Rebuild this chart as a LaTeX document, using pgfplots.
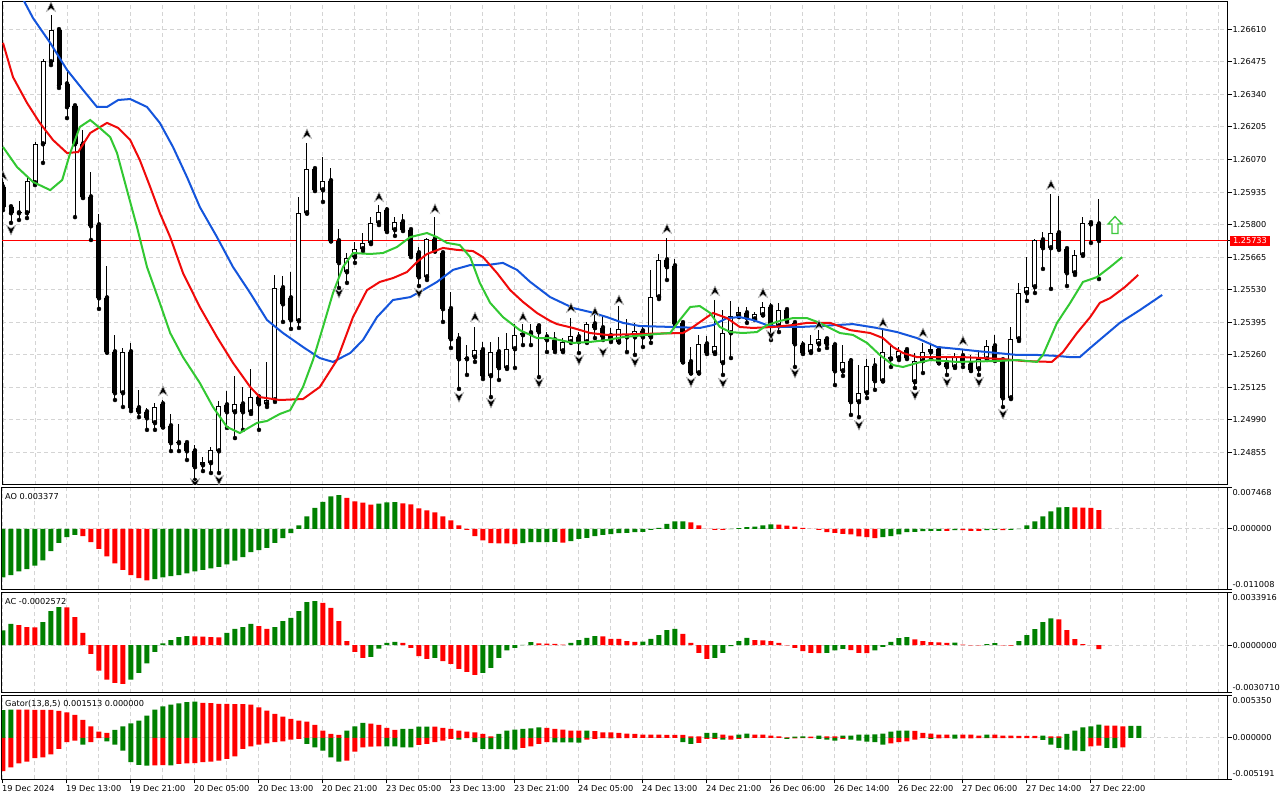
\documentclass[border=0pt]{standalone}
\usepackage{fontspec}
\setmainfont{DejaVu Sans}
\usepackage{pgfplots}
\pgfplotsset{compat=1.18}
\usepackage{pgfplotstable}
\definecolor{gridc}{RGB}{212,212,212}
\definecolor{jaw}{RGB}{20,85,220}
\definecolor{teeth}{RGB}{240,10,10}
\definecolor{lips}{RGB}{50,200,50}
\definecolor{hg}{RGB}{0,128,0}
\definecolor{hr}{RGB}{255,0,0}
\definecolor{sig}{RGB}{60,200,60}

\pgfdeclareplotmark{fup}{%
  \pgfpathmoveto{\pgfqpoint{0pt}{5pt}}%
  \pgfpathlineto{\pgfqpoint{4.5pt}{-4.5pt}}%
  \pgfpathlineto{\pgfqpoint{0pt}{-1.5pt}}%
  \pgfpathlineto{\pgfqpoint{-4.5pt}{-4.5pt}}%
  \pgfpathclose
  \pgfusepathqfillstroke}
\pgfdeclareplotmark{fdn}{%
  \pgfpathmoveto{\pgfqpoint{0pt}{-5pt}}%
  \pgfpathlineto{\pgfqpoint{4.5pt}{4.5pt}}%
  \pgfpathlineto{\pgfqpoint{0pt}{1.5pt}}%
  \pgfpathlineto{\pgfqpoint{-4.5pt}{4.5pt}}%
  \pgfpathclose
  \pgfusepathqfillstroke}
\pgfdeclareplotmark{sigup}{%
  \pgfpathmoveto{\pgfqpoint{0pt}{8.5pt}}%
  \pgfpathlineto{\pgfqpoint{7pt}{1pt}}%
  \pgfpathlineto{\pgfqpoint{3pt}{1pt}}%
  \pgfpathlineto{\pgfqpoint{3pt}{-8.5pt}}%
  \pgfpathlineto{\pgfqpoint{-3pt}{-8.5pt}}%
  \pgfpathlineto{\pgfqpoint{-3pt}{1pt}}%
  \pgfpathlineto{\pgfqpoint{-7pt}{1pt}}%
  \pgfpathclose
  \pgfusepathqstroke}

\pgfplotsset{
  mt/.style={scale only axis, width=1225.7pt, xmin=-0.125, xmax=153.09,
    scaled ticks=false,
    axis line style={line width=1pt},
    xtick={0,8,...,136}, minor xtick={4,12,...,148,144,152},
    xmajorgrids, xminorgrids, ymajorgrids,
    grid style={gridc, dash pattern=on 4pt off 3pt, line width=1pt},
    ytick pos=right, yticklabel pos=right, tick align=outside,
    major tick length=4pt, minor tick length=0pt,
    every tick/.style={black, line width=1pt},
    ticklabel style={font=\fontsize{8.2}{9.8}\selectfont},
    yticklabel style={anchor=base west, inner sep=0pt, xshift=0.6pt, yshift=-3pt},
    clip marker paths=true,
  },
  ind/.style={mt, xticklabels={}, xtick style={draw=none}},
  /pgf/number format/assume math mode=true,
}

\pgfplotstableread{
k O H L C
0 1.25956 1.25977 1.25860 1.25873
1 1.25873 1.25881 1.25807 1.25848
2 1.25848 1.25898 1.25819 1.25852
3 1.25848 1.25993 1.25827 1.25981
4 1.25973 1.26143 1.25964 1.26134
5 1.26134 1.26487 1.26056 1.26479
6 1.26475 1.26670 1.26462 1.26608
7 1.26608 1.26612 1.26367 1.26379
8 1.26383 1.26442 1.26242 1.26288
9 1.26292 1.26296 1.25831 1.26134
10 1.26134 1.26193 1.25910 1.25914
11 1.25914 1.26018 1.25736 1.25794
12 1.25798 1.25844 1.25450 1.25495
13 1.25495 1.25628 1.25268 1.25271
14 1.25271 1.25342 1.25072 1.25101
15 1.25101 1.25288 1.25043 1.25271
16 1.25271 1.25309 1.25026 1.25039
17 1.25039 1.25114 1.25001 1.25022
18 1.25022 1.25039 1.24948 1.24997
19 1.24977 1.25060 1.24948 1.25043
20 1.25055 1.25072 1.24958 1.24960
21 1.24964 1.25014 1.24860 1.24894
22 1.24894 1.24972 1.24860 1.24896
23 1.24894 1.24902 1.24823 1.24860
24 1.24860 1.24885 1.24740 1.24794
25 1.24802 1.24835 1.24777 1.24815
26 1.24811 1.24877 1.24769 1.24865
27 1.24860 1.25068 1.24769 1.25047
28 1.25051 1.25109 1.24956 1.25022
29 1.25022 1.25172 1.24914 1.25055
30 1.25055 1.25126 1.24948 1.25022
31 1.25022 1.25201 1.25014 1.25084
32 1.25084 1.25088 1.24948 1.25055
33 1.25055 1.25230 1.25043 1.25072
34 1.25072 1.25591 1.25064 1.25537
35 1.25537 1.25587 1.25396 1.25470
36 1.25495 1.25603 1.25367 1.25404
37 1.25400 1.25914 1.25371 1.25848
38 1.25848 1.26139 1.25845 1.26031
39 1.26031 1.26039 1.25939 1.25943
40 1.25943 1.26080 1.25894 1.25981
41 1.25981 1.26035 1.25730 1.25732
42 1.25732 1.25782 1.25537 1.25641
43 1.25603 1.25682 1.25558 1.25661
44 1.25665 1.25728 1.25641 1.25699
45 1.25699 1.25765 1.25690 1.25724
46 1.25724 1.25831 1.25719 1.25807
47 1.25807 1.25881 1.25798 1.25852
48 1.25860 1.25873 1.25769 1.25773
49 1.25778 1.25831 1.25753 1.25811
50 1.25811 1.25844 1.25773 1.25778
51 1.25778 1.25780 1.25665 1.25670
52 1.25682 1.25707 1.25545 1.25582
53 1.25582 1.25744 1.25570 1.25740
54 1.25740 1.25831 1.25688 1.25690
55 1.25682 1.25685 1.25396 1.25450
56 1.25450 1.25520 1.25288 1.25325
57 1.25325 1.25350 1.25118 1.25242
58 1.25242 1.25300 1.25176 1.25246
59 1.25250 1.25375 1.25230 1.25280
60 1.25280 1.25313 1.25159 1.25172
61 1.25172 1.25313 1.25084 1.25271
62 1.25271 1.25333 1.25155 1.25205
63 1.25205 1.25350 1.25201 1.25284
64 1.25284 1.25387 1.25205 1.25342
65 1.25342 1.25387 1.25300 1.25350
66 1.25350 1.25387 1.25300 1.25348
67 1.25379 1.25383 1.25167 1.25354
68 1.25333 1.25354 1.25271 1.25321
69 1.25321 1.25354 1.25271 1.25280
70 1.25275 1.25329 1.25271 1.25313
71 1.25313 1.25412 1.25309 1.25338
72 1.25333 1.25354 1.25267 1.25313
73 1.25313 1.25396 1.25309 1.25387
74 1.25387 1.25425 1.25329 1.25371
75 1.25371 1.25425 1.25321 1.25333
76 1.25338 1.25371 1.25313 1.25321
77 1.25313 1.25462 1.25311 1.25367
78 1.25333 1.25408 1.25271 1.25335
79 1.25333 1.25392 1.25259 1.25358
80 1.25358 1.25379 1.25292 1.25333
81 1.25333 1.25612 1.25309 1.25499
82 1.25499 1.25678 1.25491 1.25653
83 1.25653 1.25744 1.25570 1.25624
84 1.25628 1.25657 1.25385 1.25387
85 1.25392 1.25394 1.25228 1.25230
86 1.25230 1.25292 1.25182 1.25184
87 1.25184 1.25342 1.25182 1.25304
88 1.25304 1.25338 1.25263 1.25267
89 1.25267 1.25487 1.25263 1.25296
90 1.25226 1.25446 1.25176 1.25350
91 1.25350 1.25483 1.25246 1.25421
92 1.25421 1.25458 1.25416 1.25437
93 1.25433 1.25458 1.25392 1.25412
94 1.25408 1.25437 1.25404 1.25429
95 1.25425 1.25479 1.25423 1.25458
96 1.25458 1.25475 1.25321 1.25387
97 1.25379 1.25475 1.25354 1.25446
98 1.25446 1.25450 1.25396 1.25404
99 1.25392 1.25394 1.25209 1.25304
100 1.25300 1.25317 1.25263 1.25267
101 1.25271 1.25342 1.25267 1.25304
102 1.25304 1.25363 1.25280 1.25325
103 1.25325 1.25327 1.25288 1.25304
104 1.25300 1.25302 1.25134 1.25192
105 1.25192 1.25300 1.25172 1.25230
106 1.25234 1.25246 1.25010 1.25064
107 1.25064 1.25217 1.25001 1.25101
108 1.25101 1.25242 1.25080 1.25213
109 1.25213 1.25246 1.25114 1.25151
110 1.25151 1.25367 1.25149 1.25271
111 1.25242 1.25300 1.25209 1.25250
112 1.25246 1.25292 1.25238 1.25275
113 1.25280 1.25284 1.25242 1.25246
114 1.25147 1.25267 1.25122 1.25234
115 1.25234 1.25309 1.25184 1.25271
116 1.25271 1.25300 1.25242 1.25284
117 1.25284 1.25286 1.25224 1.25226
118 1.25226 1.25246 1.25176 1.25209
119 1.25209 1.25267 1.25205 1.25255
120 1.25255 1.25280 1.25209 1.25226
121 1.25221 1.25259 1.25192 1.25197
122 1.25201 1.25280 1.25176 1.25242
123 1.25242 1.25321 1.25238 1.25296
124 1.25296 1.25342 1.25234 1.25238
125 1.25238 1.25240 1.25043 1.25080
126 1.25080 1.25375 1.25076 1.25325
127 1.25325 1.25558 1.25317 1.25516
128 1.25516 1.25665 1.25483 1.25541
129 1.25541 1.25740 1.25516 1.25736
130 1.25736 1.25769 1.25616 1.25703
131 1.25703 1.25927 1.25533 1.25765
132 1.25765 1.25919 1.25695 1.25699
133 1.25699 1.25701 1.25545 1.25599
134 1.25599 1.25695 1.25591 1.25674
135 1.25674 1.25831 1.25670 1.25807
136 1.25807 1.25815 1.25724 1.25802
137 1.25802 1.25906 1.25574 1.25733
}\candles

\begin{document}
\begin{tikzpicture}[x=1pt,y=1pt]
\fill[white] (0,0) rectangle (1280,800);
\path[use as bounding box] (0,0) rectangle (1280,800);

% ---------------- main price panel ----------------
\begin{axis}[mt, at={(2pt,315pt)}, anchor=south west, height=483pt,
  ymin=1.247193, ymax=1.267237, xticklabels={}, xtick style={draw=none},
  ytick={1.24855,1.24990,1.25125,1.25260,1.25395,1.25530,1.25665,1.25800,1.25935,1.26070,1.26205,1.26340,1.26475,1.26610},
  yticklabels={1.24855,1.24990,1.25125,1.25260,1.25395,1.25530,1.25665,1.25800,1.25935,1.26070,1.26205,1.26340,1.26475,1.26610},
  extra y ticks={1.25733}, extra y tick labels={1.25733},
  extra y tick style={grid=none, yticklabel style={fill=hr, text=white, inner xsep=3.5pt, inner ysep=2pt, xshift=-3pt}},
]
\addplot[hr, line width=1pt, forget plot] coordinates {(-1,1.25733) (160,1.25733)};
% wicks
\addplot[only marks, mark=none, forget plot, error bars/.cd, y dir=plus, y explicit, error mark=none,
  error bar style={draw=black, line width=1pt, solid}]
  table[x=k, y=L, y error expr=\thisrow{H}-\thisrow{L}] {\candles};
% bodies
\addplot[only marks, mark=none, forget plot, error bars/.cd, y dir=plus, y explicit, error mark=none,
  error bar style={draw=black, line width=5pt, solid}]
  table[x=k, y expr={min(\thisrow{O},\thisrow{C})-0.00001}, y error expr={abs(\thisrow{C}-\thisrow{O})+0.00002}] {\candles};
\addplot[only marks, mark=none, forget plot, error bars/.cd, y dir=plus, y explicit, error mark=none,
  error bar style={draw=white, line width=3pt, solid}]
  table[x=k, y expr={\thisrow{O}+0.00003}, y error expr={max(\thisrow{C}-\thisrow{O}-0.00006,0)}] {\candles};
% alligator
\addplot[jaw, line width=2pt] coordinates {(1.9,1.26780) (2.75,1.26720) (3.75,1.26657) (5.9,1.26554) (8,1.26442) (10,1.26359) (11.75,1.26288) (13,1.26288) (14.4,1.26317) (15.9,1.26321) (18,1.26288) (19.6,1.26222) (21.25,1.26122) (23,1.25997) (24.6,1.25873) (26.75,1.25748) (28.75,1.25624) (30.9,1.25516) (33,1.25404) (35,1.25350) (37.5,1.25292) (39.6,1.25246) (41.25,1.25230) (43.4,1.25267) (45,1.25321) (46.75,1.25416) (48.75,1.25487) (50.9,1.25499) (52.5,1.25528) (54.25,1.25562) (56.25,1.25612) (58.4,1.25632) (60.5,1.25632) (62.5,1.25641) (64.25,1.25612) (65.9,1.25562) (68.4,1.25499) (71.25,1.25454) (73.4,1.25437) (75.5,1.25416) (77.5,1.25392) (79.6,1.25379) (83.75,1.25375) (87.1,1.25371) (88.75,1.25383) (90.5,1.25412) (92.1,1.25416) (93.75,1.25404) (95.5,1.25383) (97.1,1.25375) (99.6,1.25375) (102.1,1.25379) (106.25,1.25387) (109.25,1.25371) (111.75,1.25354) (114.25,1.25329) (116.75,1.25292) (119.25,1.25284) (121.75,1.25275) (124.25,1.25267) (126.75,1.25259) (129.25,1.25259) (131.75,1.25255) (133.4,1.25250) (134.6,1.25250) (135.9,1.25288) (137.5,1.25333) (139.6,1.25392) (142.1,1.25445) (144.9,1.25508)};
\addplot[teeth, line width=2pt] coordinates {(0,1.26554) (1.25,1.26412) (3,1.26305) (4.6,1.26222) (6.25,1.26151) (8,1.26097) (9.4,1.26101) (10.9,1.26180) (13,1.26222) (14.4,1.26201) (15.9,1.26151) (17.1,1.26068) (18.4,1.25956) (19.6,1.25848) (20.9,1.25748) (22.5,1.25599) (24.6,1.25458) (26.75,1.25333) (28.75,1.25226) (30.9,1.25126) (32.1,1.25084) (34.6,1.25072) (37.5,1.25076) (39.6,1.25126) (41.75,1.25238) (43.75,1.25416) (45.5,1.25528) (47.1,1.25562) (48.75,1.25578) (50.5,1.25603) (51.75,1.25645) (53,1.25678) (55,1.25703) (56.75,1.25695) (58.75,1.25690) (60,1.25665) (61.75,1.25599) (63.4,1.25528) (65,1.25479) (66.75,1.25433) (68.4,1.25400) (69.25,1.25387) (71.25,1.25371) (73.4,1.25350) (75.5,1.25342) (79.6,1.25346) (85,1.25350) (86.25,1.25375) (88,1.25416) (88.75,1.25433) (90.5,1.25412) (92.1,1.25375) (93.75,1.25371) (96.25,1.25375) (98.75,1.25383) (100.5,1.25392) (103.4,1.25392) (105.9,1.25362) (108.4,1.25350) (110,1.25329) (111.25,1.25292) (112.5,1.25267) (114.25,1.25250) (120,1.25250) (122.5,1.25246) (125,1.25242) (127.5,1.25234) (131.1,1.25230) (132.5,1.25271) (134.25,1.25350) (135.9,1.25416) (137.1,1.25475) (138.4,1.25495) (140.25,1.25541) (141.9,1.25591)};
\addplot[lips, line width=2pt] coordinates {(0,1.26122) (1.75,1.26039) (3.75,1.25977) (5.9,1.25943) (7.4,1.25985) (8.4,1.26097) (9.6,1.26205) (10.9,1.26234) (12.1,1.26201) (13.4,1.26163) (14.25,1.26097) (15.5,1.25943) (16.75,1.25790) (18,1.25624) (19.6,1.25475) (20.9,1.25350) (22.5,1.25250) (24.6,1.25143) (26.25,1.25043) (28,1.24960) (29.6,1.24935) (31.75,1.24977) (33,1.24985) (34.6,1.25014) (35.9,1.25030) (37.5,1.25126) (38.75,1.25238) (40,1.25375) (41.25,1.25516) (42.5,1.25624) (43.75,1.25682) (45.9,1.25678) (47.5,1.25682) (49.25,1.25707) (50.9,1.25748) (53,1.25765) (54.25,1.25748) (55.5,1.25724) (57.1,1.25715) (58.4,1.25665) (59.6,1.25558) (60.9,1.25475) (62.5,1.25416) (64.6,1.25362) (66.75,1.25329) (68.4,1.25329) (71.25,1.25309) (73.4,1.25313) (75.5,1.25321) (77.5,1.25333) (81.75,1.25346) (83.4,1.25350) (84.6,1.25404) (85.9,1.25458) (87.1,1.25462) (88.4,1.25433) (89.6,1.25375) (90.9,1.25354) (92.5,1.25350) (94.25,1.25354) (95.5,1.25383) (97.1,1.25400) (98.75,1.25412) (100.5,1.25412) (102.1,1.25392) (104.6,1.25350) (106.25,1.25342) (108,1.25309) (109.6,1.25259) (111.25,1.25217) (112.5,1.25209) (114.25,1.25226) (115.9,1.25238) (119.25,1.25230) (124.25,1.25234) (126.75,1.25238) (129.25,1.25230) (130,1.25259) (131.75,1.25392) (133.4,1.25475) (135,1.25562) (136.75,1.25582) (138.4,1.25624) (139.9,1.25665)};
% fractals
\addplot[only marks, mark=fup, mark options={fill=black, draw=gray!60, line width=0.6pt}] coordinates {(0,1.26002) (6,1.26703) (20,1.25109) (38,1.26176) (47,1.25914) (54,1.25865) (59,1.25416) (65,1.25416) (71,1.25454) (74,1.25437) (77,1.25487) (83,1.25782) (89,1.25524) (95,1.25516) (102,1.25383) (110,1.25392) (115,1.25350) (120,1.25317) (131,1.25964)};
\addplot[only marks, mark=fdn, mark options={fill=black, draw=gray!60, line width=0.6pt}] coordinates {(1,1.25778) (24,1.24727) (27,1.24740) (42,1.25516) (52,1.25516) (57,1.25084) (61,1.25060) (67,1.25143) (72,1.25238) (75,1.25271) (79,1.25230) (86,1.25147) (90,1.25143) (96,1.25342) (99,1.25184) (107,1.24968) (114,1.25093) (118,1.25147) (122,1.25147) (125,1.25014)};
% buy signal
\addplot[only marks, mark=sigup, mark options={draw=sig, line width=1.3pt}] coordinates {(139,1.25798)};
\end{axis}

% ---------------- AO ----------------
\begin{axis}[ind, at={(2pt,210.7pt)}, anchor=south west, height=101.6pt,
  ymin=-0.01101, ymax=0.00747, ytick={-0.011008,0,0.007468},
  yticklabels={\raisebox{5pt}{-0.011008},0.000000,\raisebox{-4.6pt}{0.007468}}]
\addplot[ybar, bar width=5pt, bar shift=0pt, fill=hg, draw=none] coordinates {(0,-0.00884) (1,-0.00841) (2,-0.00774) (3,-0.00732) (4,-0.00671) (5,-0.00573) (6,-0.00408) (7,-0.00256) (8,-0.00152) (9,-0.00110) (19,-0.00915) (20,-0.00884) (21,-0.00860) (22,-0.00841) (23,-0.00811) (24,-0.00774) (25,-0.00750) (26,-0.00719) (27,-0.00695) (28,-0.00646) (29,-0.00579) (30,-0.00518) (31,-0.00427) (32,-0.00390) (33,-0.00348) (34,-0.00256) (35,-0.00171) (36,-0.00079) (37,0.00061) (38,0.00226) (39,0.00378) (40,0.00488) (41,0.00591) (42,0.00610) (47,0.00455) (48,0.00482) (49,0.00484) (65,-0.00262) (66,-0.00244) (67,-0.00243) (68,-0.00242) (69,-0.00240) (71,-0.00226) (72,-0.00183) (73,-0.00165) (74,-0.00134) (75,-0.00110) (76,-0.00098) (77,-0.00079) (78,-0.00076) (79,-0.00061) (80,-0.00058) (81,-0.00018) (82,0.00018) (83,0.00091) (84,0.00134) (85,0.00136) (91,-0.00005) (92,0.00010) (93,0.00030) (94,0.00037) (95,0.00061) (96,0.00079) (110,-0.00152) (111,-0.00134) (112,-0.00104) (113,-0.00061) (114,-0.00058) (115,-0.00043) (116,-0.00040) (117,-0.00037) (119,-0.00024) (123,-0.00024) (124,-0.00022) (126,-0.00018) (127,-0.00006) (128,0.00061) (129,0.00134) (130,0.00226) (131,0.00317) (132,0.00390) (133,0.00392)};
\addplot[ybar, bar width=5pt, bar shift=0pt, fill=hr, draw=none] coordinates {(10,-0.00134) (11,-0.00244) (12,-0.00366) (13,-0.00500) (14,-0.00628) (15,-0.00750) (16,-0.00841) (17,-0.00896) (18,-0.00939) (43,0.00561) (44,0.00500) (45,0.00476) (46,0.00440) (50,0.00463) (51,0.00445) (52,0.00372) (53,0.00335) (54,0.00299) (55,0.00226) (56,0.00152) (57,0.00061) (58,-0.00018) (59,-0.00134) (60,-0.00213) (61,-0.00262) (62,-0.00265) (63,-0.00268) (64,-0.00280) (70,-0.00250) (86,0.00116) (87,0.00061) (88,-0.00003) (89,-0.00018) (90,-0.00020) (97,0.00076) (98,0.00055) (99,0.00037) (100,0.00018) (101,-0.00003) (102,-0.00018) (103,-0.00061) (104,-0.00073) (105,-0.00091) (106,-0.00104) (107,-0.00140) (108,-0.00152) (109,-0.00171) (118,-0.00039) (120,-0.00026) (121,-0.00037) (122,-0.00039) (125,-0.00025) (134,0.00388) (135,0.00385) (136,0.00380) (137,0.003377)};
\node[anchor=west, inner sep=0pt, xshift=3pt, yshift=-9pt, font=\fontsize{8.2}{9.8}\selectfont] at (rel axis cs:0,1) {AO 0.003377};
\end{axis}

% ---------------- AC ----------------
\begin{axis}[ind, at={(2pt,107.3pt)}, anchor=south west, height=100pt,
  ymin=-0.0030712, ymax=0.0033918, ytick={-0.0030710,0,0.0033916},
  yticklabels={\raisebox{5.4pt}{-0.0030710},0.0000000,\raisebox{-5pt}{0.0033916}}]
\addplot[ybar, bar width=5pt, bar shift=0pt, fill=hg, draw=none] coordinates {(0,0.00095) (1,0.00138) (5,0.00149) (6,0.00220) (7,0.00246) (16,-0.00222) (17,-0.00179) (18,-0.00118) (19,-0.00043) (20,0.00011) (21,0.00032) (22,0.00052) (23,0.00058) (28,0.00080) (29,0.00106) (30,0.00116) (31,0.00138) (34,0.00116) (35,0.00155) (36,0.00177) (37,0.00220) (38,0.00278) (39,0.00284) (46,-0.00075) (47,-0.00022) (48,0.00015) (49,0.00022) (54,-0.00082) (60,-0.00179) (61,-0.00146) (62,-0.00082) (63,-0.00034) (64,-0.00017) (65,0.00002) (66,0.00019) (71,0.00015) (72,0.00032) (73,0.00047) (74,0.00058) (80,0.00023) (81,0.00041) (82,0.00065) (83,0.00097) (84,0.00106) (89,-0.00082) (90,-0.00050) (91,-0.00006) (92,0.00026) (93,0.00047) (103,-0.00049) (104,-0.00034) (105,-0.00024) (109,-0.00034) (110,-0.00011) (111,0.00022) (112,0.00045) (113,0.00052) (119,0.00016) (123,0.00006) (124,0.00013) (127,0.00026) (128,0.00065) (129,0.00103) (130,0.00149) (131,0.00174)};
\addplot[ybar, bar width=5pt, bar shift=0pt, fill=hr, draw=none] coordinates {(2,0.00129) (3,0.00116) (4,0.00115) (8,0.00245) (9,0.00181) (10,0.00080) (11,-0.00056) (12,-0.00164) (13,-0.00222) (14,-0.00243) (15,-0.00250) (24,0.00057) (25,0.00056) (26,0.00052) (27,0.00051) (32,0.00123) (33,0.00106) (40,0.00274) (41,0.00241) (42,0.00155) (43,0.00026) (44,-0.00043) (45,-0.00082) (50,0.00015) (51,-0.00017) (52,-0.00071) (53,-0.00088) (55,-0.00103) (56,-0.00121) (57,-0.00153) (58,-0.00172) (59,-0.00192) (67,0.00011) (68,0.00010) (69,0.00009) (70,0.00004) (75,0.00057) (76,0.00041) (77,0.00040) (78,0.00026) (79,0.00022) (85,0.00073) (86,0.00015) (87,-0.00050) (88,-0.00088) (94,0.00032) (95,0.00031) (96,0.00026) (97,0.00015) (98,-0.00001) (99,-0.00017) (100,-0.00039) (101,-0.00050) (102,-0.00051) (106,-0.00032) (107,-0.00050) (108,-0.00051) (114,0.00037) (115,0.00026) (116,0.00019) (117,0.00018) (118,0.00015) (120,0.00004) (121,-0.00001) (122,-0.00002) (125,-0.00002) (126,-0.00003) (132,0.00166) (133,0.00097) (134,0.00039) (135,0.00006) (136,0.00001) (137,-0.0002572)};
\node[anchor=west, inner sep=0pt, xshift=3pt, yshift=-9pt, font=\fontsize{8.2}{9.8}\selectfont] at (rel axis cs:0,1) {AC -0.0002572};
\end{axis}

% ---------------- Gator ----------------
\begin{axis}[mt, at={(2pt,20.7pt)}, anchor=south west, height=84pt,
  ymin=-0.005192, ymax=0.005351, ytick={-0.005191,0,0.005350},
  yticklabels={\raisebox{5.6pt}{-0.005191},0.000000,\raisebox{-5.4pt}{0.005350}},
  xtick pos=bottom,
  xticklabels={19 Dec 2024,19 Dec 13:00,19 Dec 21:00,20 Dec 05:00,20 Dec 13:00,20 Dec 21:00,23 Dec 05:00,23 Dec 13:00,23 Dec 21:00,24 Dec 05:00,24 Dec 13:00,24 Dec 21:00,26 Dec 06:00,26 Dec 14:00,26 Dec 22:00,27 Dec 06:00,27 Dec 14:00,27 Dec 22:00},
  xticklabel style={anchor=north west, inner sep=0pt, xshift=-1pt, yshift=-1.5pt}]
\addplot[ybar, bar width=5pt, bar shift=0pt, fill=hg, draw=none] coordinates {(0,0.00350) (1,0.00356) (14,0.00100) (15,0.00146) (16,0.00184) (17,0.00218) (18,0.00280) (19,0.00356) (20,0.00397) (21,0.00418) (22,0.00435) (23,0.00448) (24,0.00456) (43,0.00092) (44,0.00146) (45,0.00188) (50,0.00113) (51,0.00114) (52,0.00142) (53,0.00143) (62,0.00050) (63,0.00092) (64,0.00105) (65,0.00113) (66,0.00121) (67,0.00134) (73,0.00093) (88,0.00063) (89,0.00064) (92,0.00042) (93,0.00054) (99,0.00017) (100,0.00018) (102,0.00029) (105,0.00029) (106,0.00030) (107,0.00042) (108,0.00043) (109,0.00044) (110,0.00054) (111,0.00079) (112,0.00092) (113,0.00093) (119,0.00042) (123,0.00042) (130,0.00029) (133,0.00050) (134,0.00092) (135,0.00134) (136,0.00146) (137,0.00167) (141,0.00150) (142,0.001513)};
\addplot[ybar, bar width=5pt, bar shift=0pt, fill=hr, draw=none] coordinates {(2,0.00355) (3,0.00354) (4,0.00353) (5,0.00352) (6,0.00351) (7,0.00339) (8,0.00322) (9,0.00289) (10,0.00226) (11,0.00146) (12,0.00079) (13,0.00063) (25,0.00439) (26,0.00438) (27,0.00427) (28,0.00426) (29,0.00425) (30,0.00424) (31,0.00418) (32,0.00385) (33,0.00343) (34,0.00301) (35,0.00268) (36,0.00238) (37,0.00218) (38,0.00205) (39,0.00163) (40,0.00092) (41,0.00050) (42,0.00038) (46,0.00180) (47,0.00163) (48,0.00125) (49,0.00100) (54,0.00141) (55,0.00125) (56,0.00113) (57,0.00092) (58,0.00079) (59,0.00071) (60,0.00050) (61,0.00021) (68,0.00125) (69,0.00113) (70,0.00105) (71,0.00092) (72,0.00091) (74,0.00084) (75,0.00071) (76,0.00070) (77,0.00063) (78,0.00054) (79,0.00050) (80,0.00042) (81,0.00041) (82,0.00040) (83,0.00039) (84,0.00038) (85,0.00037) (86,0.00021) (87,0.00020) (90,0.00042) (91,0.00029) (94,0.00042) (95,0.00041) (96,0.00029) (97,0.00021) (98,0.00008) (101,0.00017) (103,0.00021) (104,0.00020) (114,0.00090) (115,0.00063) (116,0.00054) (117,0.00042) (118,0.00041) (120,0.00041) (121,0.00040) (122,0.00029) (124,0.00041) (125,0.00029) (126,0.00028) (127,0.00027) (128,0.00026) (129,0.00025) (131,0.00021) (132,0.00020) (138,0.00155) (139,0.00154) (140,0.00146)};
\addplot[ybar, bar width=5pt, bar shift=0pt, fill=hg, draw=none] coordinates {(10,-0.00084) (13,-0.00042) (14,-0.00084) (15,-0.00159) (16,-0.00305) (17,-0.00339) (18,-0.00347) (21,-0.00345) (38,-0.00075) (39,-0.00117) (40,-0.00159) (41,-0.00243) (42,-0.00297) (48,-0.00106) (49,-0.00107) (50,-0.00117) (51,-0.00118) (57,-0.00021) (59,-0.00054) (60,-0.00138) (61,-0.00139) (62,-0.00140) (63,-0.00141) (64,-0.00146) (69,-0.00055) (70,-0.00056) (71,-0.00057) (72,-0.00058) (76,-0.00006) (85,-0.00054) (86,-0.00075) (90,-0.00021) (98,-0.00013) (102,-0.00013) (103,-0.00021) (104,-0.00033) (106,-0.00021) (107,-0.00033) (108,-0.00046) (109,-0.00054) (110,-0.00084) (116,-0.00013) (119,-0.00010) (130,-0.00025) (131,-0.00084) (132,-0.00125) (133,-0.00146) (134,-0.00159) (135,-0.00167) (138,-0.00125) (139,-0.00129)};
\addplot[ybar, bar width=5pt, bar shift=0pt, fill=hr, draw=none] coordinates {(0,-0.00418) (1,-0.00368) (2,-0.00318) (3,-0.00297) (4,-0.00255) (5,-0.00243) (6,-0.00205) (7,-0.00138) (8,-0.00054) (9,-0.00033) (11,-0.00054) (12,-0.00004) (19,-0.00343) (20,-0.00340) (22,-0.00326) (23,-0.00318) (24,-0.00316) (25,-0.00305) (26,-0.00297) (27,-0.00284) (28,-0.00264) (29,-0.00230) (30,-0.00138) (31,-0.00105) (32,-0.00084) (33,-0.00067) (34,-0.00054) (35,-0.00042) (36,-0.00021) (37,-0.00013) (43,-0.00284) (44,-0.00172) (45,-0.00117) (46,-0.00109) (47,-0.00105) (52,-0.00088) (53,-0.00075) (54,-0.00054) (55,-0.00033) (56,-0.00013) (58,-0.00002) (65,-0.00125) (66,-0.00105) (67,-0.00075) (68,-0.00054) (73,-0.00021) (74,-0.00013) (75,-0.00004) (77,-0.00003) (78,-0.00002) (87,-0.00063) (88,-0.00013) (89,-0.00012) (91,-0.00020) (92,-0.00013) (93,-0.00003) (99,-0.00005) (100,-0.00004) (101,-0.00003) (105,-0.00013) (111,-0.00067) (112,-0.00054) (113,-0.00042) (114,-0.00021) (115,-0.00002) (117,-0.00005) (118,-0.00004) (120,-0.00006) (121,-0.00005) (122,-0.00004) (123,-0.00004) (124,-0.00004) (125,-0.00004) (126,-0.00004) (127,-0.00004) (128,-0.00004) (129,-0.00003) (136,-0.00105) (137,-0.00098) (140,-0.00117)};
\node[anchor=west, inner sep=0pt, xshift=3pt, yshift=-9pt, font=\fontsize{8.2}{9.8}\selectfont] at (rel axis cs:0,1) {Gator(13,8,5) 0.001513 0.000000};
\end{axis}
\end{tikzpicture}
\end{document}
